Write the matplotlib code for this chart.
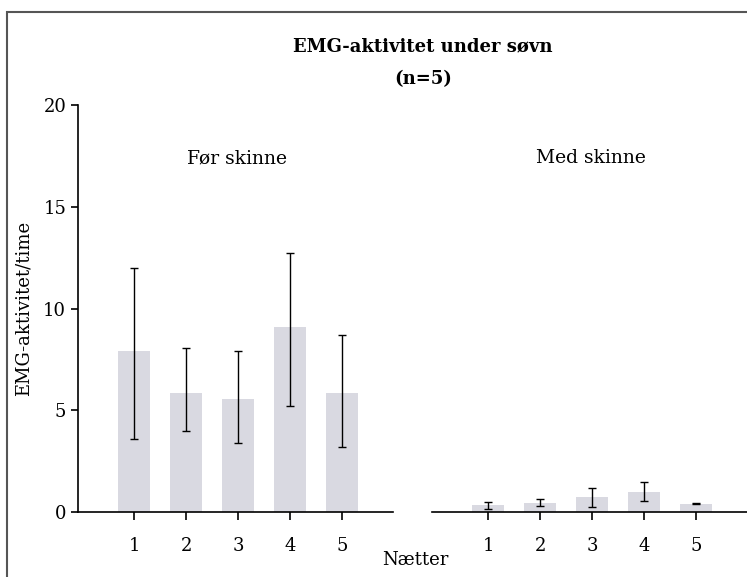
import matplotlib
matplotlib.use("Agg")
import matplotlib.pyplot as plt
from matplotlib.patches import Rectangle

# data
netter = [1, 2, 3, 4, 5]
for_skinne = [7.9, 5.85, 5.55, 9.1, 5.85]
for_lav = [4.3, 1.85, 2.15, 3.9, 2.65]
for_hoy = [4.1, 2.2, 2.35, 3.65, 2.85]
med_skinne = [0.33, 0.46, 0.75, 0.99, 0.40]
med_lav = [0.18, 0.15, 0.51, 0.45, 0.03]
med_hoy = [0.14, 0.20, 0.44, 0.50, 0.03]
y_ticks = [0, 5, 10, 15, 20]

plt.rcParams['font.family'] = ['DejaVu Serif']
bar_col = '#d9d9e1'

fig = plt.figure(figsize=(7.47, 5.77), dpi=100)

# grey frame around the whole thing
fig.patches.append(Rectangle((7 / 747, -0.2), 1.2, 1 - 12 / 577 + 0.2,
                             transform=fig.transFigure, fill=False,
                             edgecolor='#555555', linewidth=1.5))

ax1 = fig.add_axes([78 / 747, 1 - 512 / 577, 315 / 747, 407 / 577])
ax2 = fig.add_axes([432 / 747, 1 - 512 / 577, 315 / 747, 407 / 577])


def tegn(ax, verdier, lav, hoy):
    ax.bar(netter, verdier, width=0.62, color=bar_col, zorder=1)
    ax.errorbar(netter, verdier, yerr=[lav, hoy], fmt='none', ecolor='black',
                elinewidth=1, capsize=3, capthick=1, zorder=2)
    ax.set_xlim(-0.08, 5.98)
    ax.set_ylim(0, 20)
    ax.set_xticks(netter)
    ax.tick_params(axis='x', length=6, width=1.2, pad=12, labelsize=13)
    for s in ['top', 'right']:
        ax.spines[s].set_visible(False)
    ax.spines['bottom'].set_linewidth(1.2)
    ax.patch.set_visible(False)


tegn(ax1, for_skinne, for_lav, for_hoy)
tegn(ax2, med_skinne, med_lav, med_hoy)

ax1.set_yticks(y_ticks)
ax1.tick_params(axis='y', length=5, width=1.2, labelsize=13)
ax1.spines['left'].set_linewidth(1.2)
ax1.set_ylabel('EMG-aktivitet/time', fontsize=13, labelpad=8)

ax2.spines['left'].set_visible(False)
ax2.set_yticks([])

ax1.text(0.505, 0.87, 'Før skinne', transform=ax1.transAxes, ha='center',
         va='center', fontsize=13.5)
ax2.text(0.505, 0.87, 'Med skinne', transform=ax2.transAxes, ha='center',
         va='center', fontsize=13.5)

fig.text(423 / 747, 1 - 46 / 577, 'EMG-aktivitet under søvn', ha='center',
         va='center', fontsize=13, fontweight='bold')
fig.text(423 / 747, 1 - 79 / 577, '(n=5)', ha='center', va='center',
         fontsize=13, fontweight='bold')
fig.text(415 / 747, 1 - 560 / 577, 'Nætter', ha='center', va='center',
         fontsize=13)

fig.savefig('out.png', dpi=100)
